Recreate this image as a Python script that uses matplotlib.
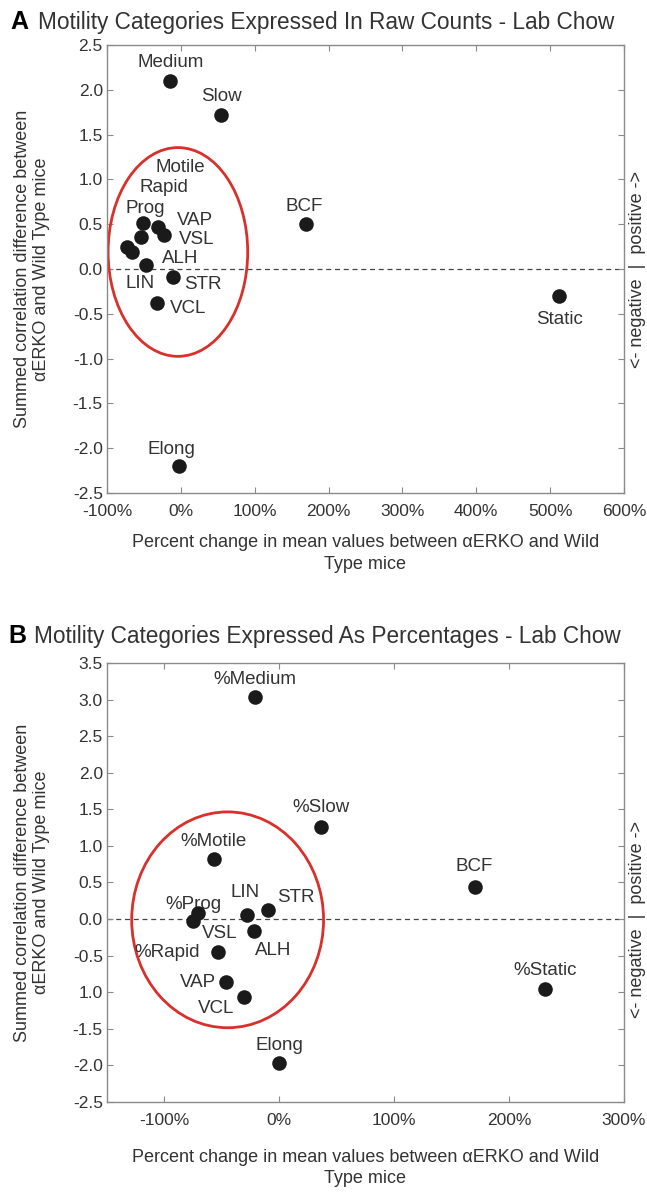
import matplotlib
matplotlib.use("Agg")
import matplotlib.pyplot as plt
from matplotlib.patches import Ellipse

plt.rcParams['font.family'] = ['Liberation Sans', 'DejaVu Sans']

# ---------------- Data: panel A (raw counts) ----------------
a_names = ["Medium", "Slow", "BCF", "Static", "Elong",
           "Prog", "VAP", "VSL", "Rapid", "Motile", "LIN", "ALH", "STR", "VCL"]
a_pct = [-15, 55, 170, 512, -2,
         -51, -31, -23, -54, -73, -66, -47, -11, -32]
a_corr = [2.10, 1.72, 0.50, -0.30, -2.20,
          0.51, 0.47, 0.38, 0.36, 0.24, 0.19, 0.04, -0.09, -0.38]
# label offsets (pixels)
a_dx = [1, 0, -2, 1, -8, 2, 37, 33, 23, 53, 8, 34, 30, 31]
a_dy = [18, 18, 18, -24, 17, 15, 6, -5, 49, 80, -32, 7, -7, -5]

# ---------------- Data: panel B (percentages) ----------------
b_names = ["%Medium", "%Slow", "BCF", "%Static", "Elong",
           "%Motile", "LIN", "STR", "%Prog", "VSL", "%Rapid", "ALH", "VAP", "VCL"]
b_pct = [-21, 36, 170, 231, 0,
         -57, -28, -10, -71, -75, -53, -22, -46, -31]
b_corr = [3.04, 1.26, 0.44, -0.95, -1.97,
          0.82, 0.05, 0.12, 0.08, -0.03, -0.45, -0.16, -0.86, -1.07]
b_dx = [0, 0, 0, 0, 0, 0, -2, 28, -4, 27, -51, 19, -29, -28]
b_dy = [17, 19, 20, 18, 18, 18, 23, 13, 9, -12, 0, -20, 0, -11]

a_xticks = [-100, 0, 100, 200, 300, 400, 500, 600]
a_yticks = [2.5, 2.0, 1.5, 1.0, 0.5, 0.0, -0.5, -1.0, -1.5, -2.0, -2.5]
b_xticks = [-100, 0, 100, 200, 300]
b_yticks = [3.5, 3.0, 2.5, 2.0, 1.5, 1.0, 0.5, 0.0, -0.5, -1.0, -1.5, -2.0, -2.5]
b_yticklabels = ["3.5", "3.0", "2.5", "2.0", "1.5", "1.0", "0.5", "0.0",
                 "-0.5", "1.0", "-1.5", "-2.0", "-2.5"]

W, H = 647, 1193
fig = plt.figure(figsize=(W / 100, H / 100), dpi=100)

TXT = "#333333"
SPINE = "#8a8a8a"
RED = "#d9302c"


def px_axes(l, t, r, b):
    return fig.add_axes([l / W, 1 - b / H, (r - l) / W, (b - t) / H])


def style(ax, xlim, ylim, xticks, yticks, yticklabels=None, xlabelpad=10):
    ax.set_xlim(*xlim)
    ax.set_ylim(*ylim)
    ax.set_xticks(xticks)
    ax.set_xticklabels([f"{v}%" for v in xticks])
    ax.set_yticks(yticks)
    ax.set_yticklabels(yticklabels if yticklabels else [f"{v:.1f}" for v in yticks])
    ax.tick_params(direction="in", top=True, right=True, length=4, width=0.8,
                   colors=SPINE, labelcolor=TXT, labelsize=12.5)
    ax.tick_params(axis="x", pad=8)
    ax.tick_params(axis="y", pad=3)
    for s in ax.spines.values():
        s.set_color(SPINE)
        s.set_linewidth(1.0)
    ax.axhline(0, color="#444444", lw=0.9, ls=(0, (4, 3)), zorder=1)
    ax.set_ylabel("Summed correlation difference between\n\u03b1ERKO and Wild Type mice",
                  fontsize=13, color=TXT, labelpad=16, linespacing=1.2)
    ax.set_xlabel("Percent change in mean values between \u03b1ERKO and Wild\nType mice",
                  fontsize=13, color=TXT, labelpad=xlabelpad, linespacing=1.35)
    ax.text(1.027, 0, "<- negative  |  positive ->", rotation=90,
            transform=ax.get_yaxis_transform(), ha="center", va="center",
            fontsize=13, color=TXT)


def points(ax, xs, ys, names, dxs, dys):
    ax.scatter(xs, ys, s=110, color="#1a1a1a", zorder=4, linewidths=0)
    for x, y, n, dx, dy in zip(xs, ys, names, dxs, dys):
        ax.annotate(n, (x, y), xytext=(dx, dy), textcoords="offset pixels",
                    ha="center", va="center", fontsize=13.5, color=TXT, zorder=3)


# ---------------- Panel A ----------------
axA = px_axes(107, 45, 624, 493)
style(axA, (-100, 600), (-2.5, 2.5), a_xticks, a_yticks, xlabelpad=11)
axA.add_patch(Ellipse((-4, 0.19), 189, 2.33, fill=False, ec=RED, lw=2, zorder=2))
points(axA, a_pct, a_corr, a_names, a_dx, a_dy)
fig.text(10 / W, 1 - 22 / H, "A", fontsize=18, fontweight="bold", va="center", ha="left")
fig.text(38 / W, 1 - 22 / H, "Motility Categories Expressed In Raw Counts - Lab Chow",
         fontsize=16.3, va="center", ha="left", color=TXT)

# ---------------- Panel B ----------------
axB = px_axes(107, 663, 624, 1102)
style(axB, (-150, 300), (-2.5, 3.5), b_xticks, b_yticks, b_yticklabels, xlabelpad=15)
axB.add_patch(Ellipse((-45, -0.01), 167, 2.95, fill=False, ec=RED, lw=2, zorder=2))
points(axB, b_pct, b_corr, b_names, b_dx, b_dy)
fig.text(8 / W, 1 - 636 / H, "B", fontsize=18, fontweight="bold", va="center", ha="left")
fig.text(34 / W, 1 - 636 / H, "Motility Categories Expressed As Percentages - Lab Chow",
         fontsize=16.3, va="center", ha="left", color=TXT)

fig.savefig("out.png", dpi=100)
